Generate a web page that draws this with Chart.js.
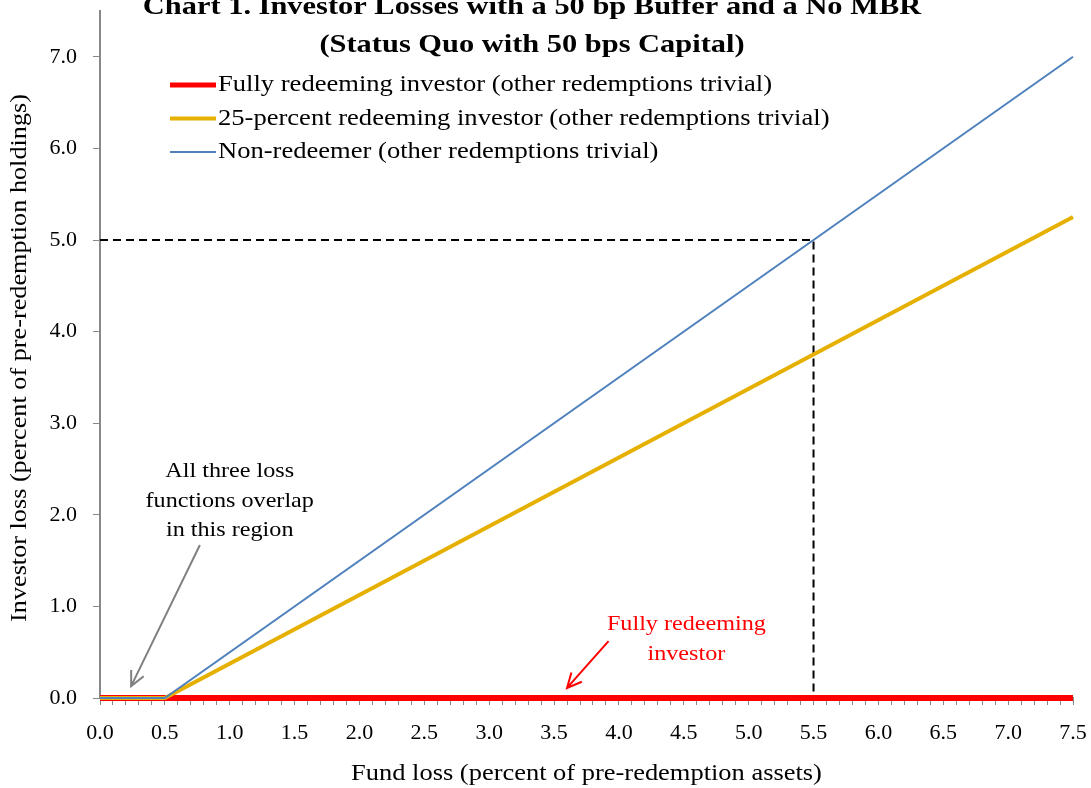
<!DOCTYPE html>
<html>
<head>
<meta charset="utf-8">
<script src="https://cdn.jsdelivr.net/npm/chart.js@4/dist/chart.umd.min.js"></script>
<style>
  html, body { margin: 0; padding: 0; background: #fff; }
  #wrap { width: 1091px; height: 788px; }
</style>
</head>
<body>
<div id="wrap"><canvas id="chart" width="1091" height="788"></canvas></div>
<script>
// fund loss (x) at the kinks of the loss functions
const fundLoss = [0, 0.5, 7.5];
const fullyRedeeming = [0, 0, 0];
const partialRedeeming = [0, 0, 5.25];
const nonRedeemer = [0, 0, 7.0];

// dashed reference line through (5.5, 5.0)
const refX = [0, 5.5, 5.5];
const refY = [5.0, 5.0, 0];

const seriesLabels = [
  'Fully redeeming investor (other redemptions trivial)',
  '25-percent redeeming investor (other redemptions trivial)',
  'Non-redeemer (other redemptions trivial)'
];
const seriesColors = ['#FF0000', '#E6B000', '#4F81BD'];
const seriesWidths = [6, 4, 2];
const titleLines = [
  'Chart 1. Investor Losses with a 50 bp Buffer and a No MBR',
  '(Status Quo with 50 bps Capital)'
];
const xTitle = 'Fund loss (percent of pre-redemption assets)';
const yTitle = 'Investor loss (percent of pre-redemption holdings)';

const serif = '"Liberation Serif", "DejaVu Serif", serif';
const toPoints = (xs, ys) => xs.map((x, i) => ({ x: x, y: ys[i] }));

// text notes, placed in data units
const notes = [
  { lines: ['All three loss', 'functions overlap', 'in this region'], x: 1.0, y: [2.47, 2.15, 1.83], color: '#000000',
    arrow: { from: [0.77, 1.67], to: [0.24, 0.13], color: '#808080' } },
  { lines: ['Fully redeeming', 'investor'], x: 4.52, y: [0.80, 0.48], color: '#FF0000',
    arrow: { from: [3.92, 0.62], to: [3.6, 0.11], color: '#FF0000' } }
];

// the original uses a wide book face, so stretch Liberation Serif a little
function wideText(ctx, text, x, y, sx, angle) {
  ctx.save();
  ctx.translate(x, y);
  if (angle) ctx.rotate(angle);
  ctx.scale(sx, 1);
  ctx.fillText(text, 0, 0);
  ctx.restore();
}

function arrow(ctx, x1, y1, x2, y2, color) {
  const a = Math.atan2(y2 - y1, x2 - x1);
  const h = 16;
  ctx.save();
  ctx.strokeStyle = color;
  ctx.lineWidth = 2;
  ctx.beginPath();
  ctx.moveTo(x1, y1);
  ctx.lineTo(x2, y2);
  ctx.moveTo(x2 - h * Math.cos(a - 0.45), y2 - h * Math.sin(a - 0.45));
  ctx.lineTo(x2, y2);
  ctx.lineTo(x2 - h * Math.cos(a + 0.45), y2 - h * Math.sin(a + 0.45));
  ctx.stroke();
  ctx.restore();
}

const extras = {
  id: 'extras',
  afterDatasetsDraw(chart) {
    const ctx = chart.ctx;
    const xs = chart.scales.x, ys = chart.scales.y;
    const area = chart.chartArea;
    ctx.save();
    ctx.textBaseline = 'middle';

    // title
    ctx.fillStyle = '#000';
    ctx.font = 'bold 26px ' + serif;
    ctx.textAlign = 'center';
    wideText(ctx, titleLines[0], 532, 7, 1.17);
    wideText(ctx, titleLines[1], 532, 45, 1.17);

    // axis titles
    ctx.font = '23px ' + serif;
    wideText(ctx, xTitle, (area.left + area.right) / 2, 774, 1.15);
    wideText(ctx, yTitle, 20, 358, 1.14, -Math.PI / 2);

    // legend
    ctx.font = '23px ' + serif;
    ctx.textAlign = 'left';
    seriesLabels.forEach((lab, i) => {
      const y = 85 + i * 33.5;
      ctx.strokeStyle = seriesColors[i];
      ctx.lineWidth = Math.min(seriesWidths[i], 5);
      ctx.beginPath();
      ctx.moveTo(170, y);
      ctx.lineTo(216, y);
      ctx.stroke();
      ctx.fillStyle = '#000';
      wideText(ctx, lab, 218, y, 1.155);
    });

    // notes
    ctx.font = '21px ' + serif;
    ctx.textAlign = 'center';
    notes.forEach(n => {
      ctx.fillStyle = n.color;
      n.lines.forEach((t, i) => wideText(ctx, t, xs.getPixelForValue(n.x), ys.getPixelForValue(n.y[i]), 1.15));
      arrow(ctx,
        xs.getPixelForValue(n.arrow.from[0]), ys.getPixelForValue(n.arrow.from[1]),
        xs.getPixelForValue(n.arrow.to[0]), ys.getPixelForValue(n.arrow.to[1]),
        n.arrow.color);
    });
    ctx.restore();
  }
};

new Chart(document.getElementById('chart').getContext('2d'), {
  type: 'line',
  data: {
    datasets: [
      { label: 'ref', data: toPoints(refX, refY), borderColor: '#000', borderWidth: 2,
        borderDash: [8, 5], pointRadius: 0, fill: false, order: 4 },
      { label: seriesLabels[0], data: toPoints(fundLoss, fullyRedeeming), borderColor: seriesColors[0],
        borderWidth: seriesWidths[0], pointRadius: 0, clip: false, order: 3 },
      { label: seriesLabels[1], data: toPoints(fundLoss, partialRedeeming), borderColor: seriesColors[1],
        borderWidth: seriesWidths[1], pointRadius: 0, clip: false, order: 2 },
      { label: seriesLabels[2], data: toPoints(fundLoss, nonRedeemer), borderColor: seriesColors[2],
        borderWidth: seriesWidths[2], pointRadius: 0, clip: false, order: 1 }
    ]
  },
  options: {
    responsive: false,
    animation: false,
    layout: { padding: { top: 11, right: 18, left: 0, bottom: 0 } },
    plugins: { legend: { display: false }, tooltip: { enabled: false } },
    scales: {
      x: {
        type: 'linear',
        min: 0, max: 7.5,
        afterFit(s) { s.height = 90; s.paddingLeft = 0; s.paddingRight = 0; },
        ticks: {
          stepSize: 0.1,
          autoSkip: false,
          maxRotation: 0,
          color: '#000',
          font: { family: serif, size: 22 },
          padding: 15,
          callback: (v) => {
            const r = Math.round(v * 10);
            return r % 5 === 0 ? (r / 10).toFixed(1) : '';
          }
        },
        grid: { drawOnChartArea: false, tickLength: 7, color: '#888', lineWidth: 1 },
        border: { color: '#888', width: 2 }
      },
      y: {
        type: 'linear',
        min: 0, max: 7.5,
        afterFit(s) { s.width = 100; s.paddingTop = 0; s.paddingBottom = 0; },
        afterBuildTicks(s) { s.ticks = s.ticks.filter(t => Number.isInteger(Math.round(t.value * 1000) / 1000)); },
        ticks: {
          stepSize: 1,
          color: '#000',
          font: { family: serif, size: 22 },
          padding: 16,
          callback: (v) => v.toFixed(1)
        },
        grid: { drawOnChartArea: false, tickLength: 7, color: '#888', lineWidth: 1 },
        border: { color: '#888', width: 2 }
      }
    }
  },
  plugins: [extras]
});
</script>
</body>
</html>
